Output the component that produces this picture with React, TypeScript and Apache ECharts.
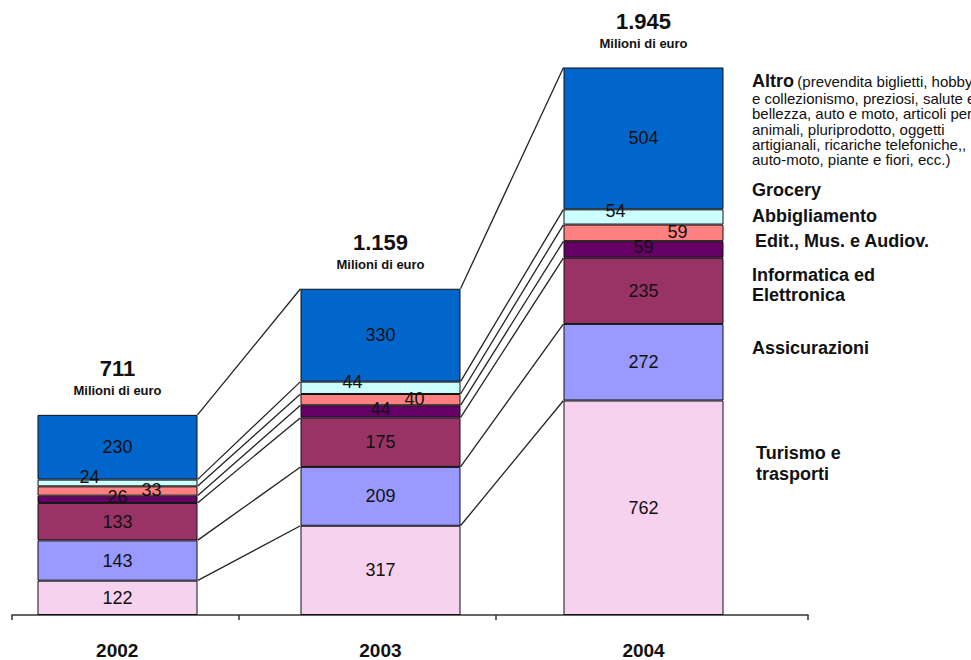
import React, { useEffect, useRef } from "react";
import * as echarts from "echarts";

// E-commerce B2C in Italia, per comparto (milioni di euro)
const years = ["2002", "2003", "2004"];
const turismo = [122, 317, 762];
const assicurazioni = [143, 209, 272];
const informatica = [133, 175, 235];
const editoria = [26, 44, 59];
const abbigliamento = [33, 40, 59];
const grocery = [24, 44, 54];
const altro = [230, 330, 504];

const segmentNames = [
  "Turismo e trasporti",
  "Assicurazioni",
  "Informatica ed Elettronica",
  "Edit., Mus. e Audiov.",
  "Abbigliamento",
  "Grocery",
  "Altro",
];
const segmentValues = [turismo, assicurazioni, informatica, editoria, abbigliamento, grocery, altro];
const segmentColors = ["#F6D2EE", "#9999FF", "#993366", "#660066", "#FF8080", "#CCFFFF", "#0066CC"];
// small segments get their value label nudged sideways so they don't collide
const labelOffsets: number[][] = [[0, 0], [0, 0], [0, 0], [0, -2], [34, -1], [-28, -6], [0, 0]];

const FONT = "'Liberation Sans', Arial, Helvetica, sans-serif";
const BAR_W = 160;
const INK = "#111";

function formatIt(n: number): string {
  return String(n).replace(/\B(?=(\d{3})+(?!\d))/g, ".");
}

export default function App() {
  const ref = useRef<HTMLDivElement>(null);

  useEffect(() => {
    document.body.style.margin = "0";
    document.body.style.overflow = "hidden";
    if (!ref.current) return;
    const chart = echarts.init(ref.current, undefined, { renderer: "svg" });

    // cumulative tops of each segment, per year
    const cum: number[][] = years.map((_, i) => {
      let s = 0;
      return segmentValues.map((arr) => (s += arr[i]));
    });
    const totals = cum.map((c) => c[c.length - 1]);

    const connectorData: number[][] = [];
    for (let i = 0; i < years.length - 1; i++) {
      for (let k = 0; k < segmentValues.length; k++) {
        connectorData.push([i, cum[i][k], cum[i + 1][k]]);
      }
    }

    const barSeries = segmentValues.map((arr, k) => ({
      type: "bar",
      name: segmentNames[k],
      stack: "tot",
      xAxisIndex: 0,
      yAxisIndex: 0,
      barWidth: BAR_W,
      clip: false,
      data: arr,
      itemStyle: { color: segmentColors[k], borderColor: INK, borderWidth: 1 },
      label: {
        show: true,
        position: "inside",
        offset: labelOffsets[k],
        color: INK,
        fontSize: 18,
        fontFamily: FONT,
      },
      emphasis: { disabled: true },
    }));

    const sideLabel = (text: string, x: number, y: number, lineHeight = 20) => ({
      type: "text",
      x,
      y,
      style: {
        text,
        fill: INK,
        font: `bold 18px ${FONT}`,
        lineHeight,
        verticalAlign: "middle",
      },
    });

    chart.setOption({
      animation: false,
      grid: [
        // plotting grid for the bars: category points sit on the grid's edges and middle
        { left: 117.5, right: 327.5, top: 52, bottom: 45 },
        // grid carrying the visible baseline, ticks and year labels
        { left: 12, right: 163, top: 52, bottom: 45 },
      ],
      xAxis: [
        {
          type: "category",
          gridIndex: 0,
          data: years,
          boundaryGap: false,
          show: false,
        },
        {
          type: "value",
          gridIndex: 1,
          min: -0.4,
          max: 2.625,
          splitLine: { show: false },
          axisLine: { show: true, lineStyle: { color: "#333", width: 1.5 } },
          axisTick: {
            show: true,
            customValues: [-0.4, 0.46, 1.44, 2.625],
            length: 5,
            lineStyle: { color: "#333", width: 1.5 },
          },
          axisLabel: {
            customValues: [0, 1, 2],
            formatter: (v: number) => years[v] ?? "",
            margin: 26,
            color: INK,
            fontSize: 19,
            fontWeight: "bold",
            fontFamily: FONT,
          },
        },
      ],
      yAxis: [
        { type: "value", gridIndex: 0, min: 0, max: 2000, show: false },
        { type: "value", gridIndex: 1, min: 0, max: 2000, show: false },
      ],
      series: [
        ...barSeries,
        {
          type: "custom",
          name: "connettori",
          xAxisIndex: 0,
          yAxisIndex: 0,
          clip: false,
          data: connectorData,
          z: 1,
          renderItem: (_p: any, api: any) => {
            const i = api.value(0);
            const a = api.coord([i, api.value(1)]);
            const b = api.coord([i + 1, api.value(2)]);
            return {
              type: "line",
              shape: { x1: a[0] + BAR_W / 2, y1: a[1], x2: b[0] - BAR_W / 2, y2: b[1] },
              style: { stroke: "#222", lineWidth: 1.3 },
            };
          },
        },
        {
          type: "custom",
          name: "totali",
          xAxisIndex: 0,
          yAxisIndex: 0,
          clip: false,
          data: totals.map((t, i) => [i, t]),
          renderItem: (_p: any, api: any) => {
            const p = api.coord([api.value(0), api.value(1)]);
            return {
              type: "group",
              children: [
                {
                  type: "text",
                  x: p[0],
                  y: p[1] - 46,
                  style: {
                    text: formatIt(api.value(1)),
                    fill: INK,
                    font: `bold 22px ${FONT}`,
                    align: "center",
                    verticalAlign: "middle",
                  },
                },
                {
                  type: "text",
                  x: p[0],
                  y: p[1] - 24,
                  style: {
                    text: "Milioni di euro",
                    fill: INK,
                    font: `bold 13px ${FONT}`,
                    align: "center",
                    verticalAlign: "middle",
                  },
                },
              ],
            };
          },
        },
      ],
      graphic: [
        {
          type: "text",
          x: 752,
          y: 81,
          style: {
            text: "{a|Altro} {b|(prevendita biglietti, hobby}",
            verticalAlign: "middle",
            rich: {
              a: { font: `bold 18px ${FONT}`, fill: INK },
              b: { font: `15px ${FONT}`, fill: INK },
            },
          },
        },
        {
          type: "text",
          x: 752,
          y: 91,
          style: {
            text:
              "e collezionismo, preziosi, salute e\nbellezza, auto e moto, articoli per\nanimali, pluriprodotto, oggetti\nartigianali, ricariche telefoniche,,\nauto-moto, piante e fiori, ecc.)",
            fill: INK,
            font: `15px ${FONT}`,
            lineHeight: 15.3,
            verticalAlign: "top",
          },
        },
        sideLabel("Grocery", 752, 190),
        sideLabel("Abbigliamento", 752, 216),
        sideLabel("Edit., Mus. e Audiov.", 755, 241),
        sideLabel("Informatica ed\nElettronica", 752, 285),
        sideLabel("Assicurazioni", 752, 348),
        sideLabel("Turismo e\ntrasporti", 756, 463, 21),
      ],
    });

    return () => chart.dispose();
  }, []);

  return <div ref={ref} style={{ width: 971, height: 660 }} />;
}
